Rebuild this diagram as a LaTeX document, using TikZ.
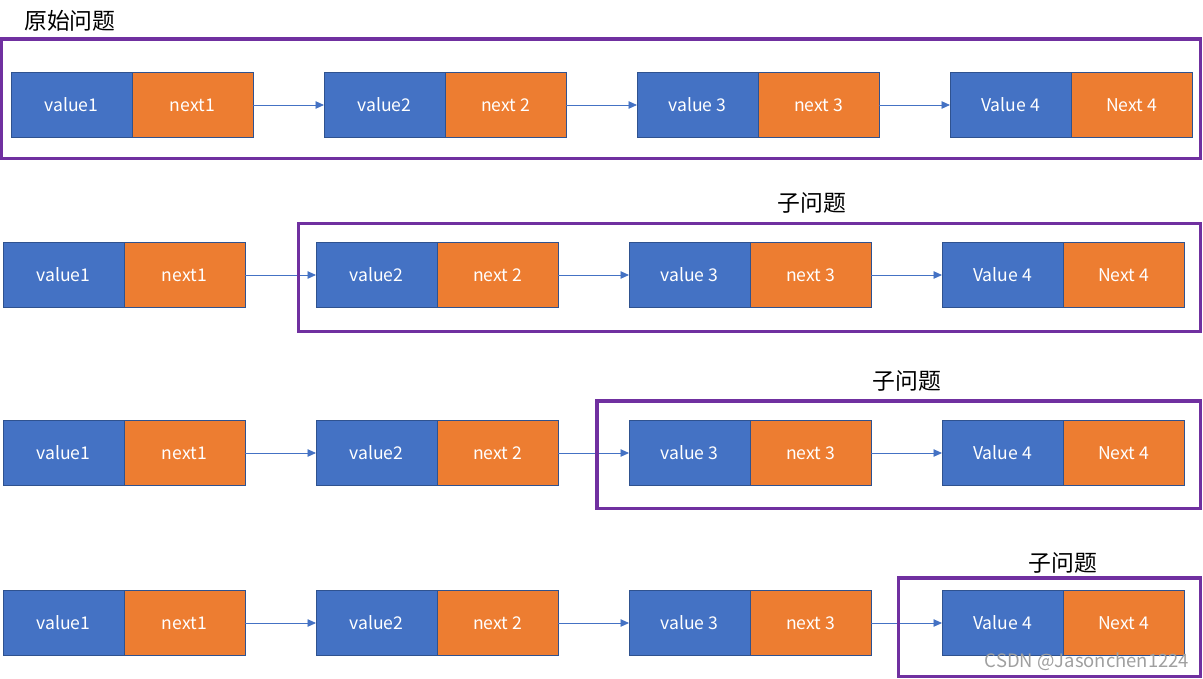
\documentclass[tikz,border=0pt]{standalone}
\usepackage{fontspec}
\setmainfont{Noto Sans CJK SC}
\usetikzlibrary{positioning,arrows.meta}
\definecolor{cellblue}{HTML}{4472C4}
\definecolor{cellorange}{HTML}{ED7D31}
\definecolor{cellline}{HTML}{2F528F}
\definecolor{framepurple}{HTML}{7030A0}
\tikzset{
  cell/.style={draw=cellline, line width=0.5pt, minimum width=2.42cm, minimum height=1.3cm,
    inner sep=0pt, outer sep=0pt, text=white, font=\fontsize{10}{12}\selectfont, anchor=west},
  valcell/.style={cell, fill=cellblue},
  nextcell/.style={cell, fill=cellorange},
  link/.style={-{Triangle[length=1.7mm,width=1.5mm]}, draw=cellblue, line width=0.5pt},
  frame/.style={draw=framepurple, line width=1.8pt},
  title/.style={font=\fontsize{13}{15}\selectfont}
}
\begin{document}
\begin{tikzpicture}[x=0.02cm, y=-0.02cm]
\useasboundingbox (0,0) rectangle (1203,679);

\foreach \r/\y/\x in {1/105/11, 2/275/3, 3/453/3, 4/623/3}{
  \node[valcell] (v\r1) at (\x,\y) {value1};
  \node[nextcell, right=0pt of v\r1] (n\r1) {next1};
  \node[valcell] (v\r2) at (\x+313,\y) {value2};
  \node[nextcell, right=0pt of v\r2] (n\r2) {next 2};
  \node[valcell] (v\r3) at (\x+626,\y) {value 3};
  \node[nextcell, right=0pt of v\r3] (n\r3) {next 3};
  \node[valcell] (v\r4) at (\x+939,\y) {Value 4};
  \node[nextcell, right=0pt of v\r4] (n\r4) {Next 4};
  \draw[link] (n\r1) -- (v\r2);
  \draw[link] (n\r2) -- (v\r3);
  \draw[link] (n\r3) -- (v\r4);
}

% frames round the problems
\draw[frame] (1.5,39) rectangle (1200.5,158.5);
\draw[frame] (298.5,223.5) rectangle (1200.5,331.5);
\draw[frame] (597,401) rectangle (1200.5,508.5);
\draw[frame] (898.5,578) rectangle (1200.5,676.5);

\node[title] (t1) at (70,21) {原始问题};
\node[title] (t2) at (812,203) {子问题};
\node[title] (t3) at (907,381) {子问题};
\node[title] (t4) at (1063,563) {子问题};

\node[text=gray!75, font=\fontsize{10.5}{12}\selectfont] (wm) at (1087,662) {CSDN @Jasonchen1224};
\end{tikzpicture}
\end{document}
